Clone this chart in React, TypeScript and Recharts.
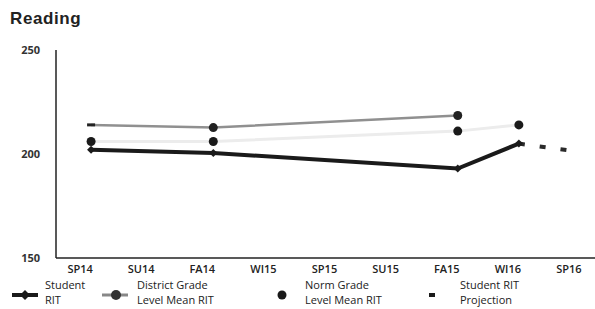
import React from "react";
import { LineChart, Line, XAxis, YAxis } from "recharts";

const periods = ["SP14", "SU14", "FA14", "WI15", "SP15", "SU15", "FA15", "WI16", "SP16"];
const studentRit = [202, null, 200.5, null, null, null, 193, 205, null];
const districtMean = [214, null, 212.7, null, null, null, 218.5, null, null];
const normMean = [206, null, 206, null, null, null, 211, 214, null];
const projection = [null, null, null, null, null, null, null, 205, 201];
const yTicks = [150, 200, 250];

const data = periods.map((p, i) => ({
  idx: i,
  period: p,
  student: studentRit[i],
  district: districtMean[i],
  norm: normMean[i],
  projection: projection[i],
}));

const FONT = "'Open Sans', 'Liberation Sans', sans-serif";

const XTick = (props: any) => {
  const { x, y, payload } = props;
  return (
    <text x={x - 11} y={y + 7} textAnchor="middle" fontFamily={FONT} fontSize={11} fontWeight={600} fill="#222">
      {periods[payload.value]}
    </text>
  );
};

const Diamond = (props: any) => {
  const { cx, cy } = props;
  if (cx == null || cy == null) return null;
  return <path d={`M${cx - 4},${cy} L${cx},${cy - 4} L${cx + 4},${cy} L${cx},${cy + 4} Z`} fill="#1a1a1a" />;
};

const DistrictDot = (props: any) => {
  const { cx, cy, index } = props;
  if (cx == null || cy == null) return null;
  if (index === 0) return <rect x={cx - 4} y={cy - 1.5} width={8} height={3} fill="#222" />;
  return <circle cx={cx} cy={cy} r={4.5} fill="#222" />;
};

const legendItems = [
  { icon: "student", lines: ["Student", "RIT"], iconX: 12, textX: 45 },
  { icon: "district", lines: ["District Grade", "Level Mean RIT"], iconX: 102, textX: 137 },
  { icon: "norm", lines: ["Norm Grade", "Level Mean RIT"], iconX: 275, textX: 305 },
  { icon: "proj", lines: ["Student RIT", "Projection"], iconX: 427, textX: 460 },
];

function LegendIcon({ kind }: { kind: string }) {
  if (kind === "student")
    return (
      <svg width={26} height={12}>
        <line x1={0} y1={6} x2={26} y2={6} stroke="#1a1a1a" strokeWidth={4} />
        <path d="M8,6 L13,1 L18,6 L13,11 Z" fill="#1a1a1a" />
      </svg>
    );
  if (kind === "district")
    return (
      <svg width={26} height={12}>
        <line x1={0} y1={6} x2={26} y2={6} stroke="#888" strokeWidth={3} />
        <circle cx={14} cy={6} r={5} fill="#333" />
      </svg>
    );
  if (kind === "norm")
    return (
      <svg width={14} height={12}>
        <circle cx={7} cy={6} r={4.5} fill="#1a1a1a" />
      </svg>
    );
  return (
    <svg width={10} height={12}>
      <rect x={2} y={4} width={6} height={4} fill="#1a1a1a" />
    </svg>
  );
}

export default function App() {
  return (
    <div style={{ position: "absolute", left: 0, top: 0, width: 595, height: 309, background: "#fff", fontFamily: FONT }}>
      <div
        style={{
          position: "absolute",
          left: 10,
          top: 9,
          fontSize: 17,
          fontWeight: 700,
          letterSpacing: 0.6,
          color: "#222",
          fontFamily: "'Liberation Sans', Arial, sans-serif",
        }}
      >
        Reading
      </div>
      <LineChart width={595} height={288} data={data} margin={{ top: 50, right: 0, bottom: 0, left: 11 }}>
        <XAxis
          dataKey="idx"
          type="number"
          domain={[-0.574, 8.246]}
          ticks={[0, 1, 2, 3, 4, 5, 6, 7, 8]}
          allowDataOverflow
          tickLine={false}
          tick={<XTick />}
          height={30}
          axisLine={{ stroke: "#222", strokeWidth: 1.5 }}
        />
        <YAxis
          domain={[150, 250]}
          ticks={yTicks}
          width={45}
          tickLine={false}
          tickSize={0}
          tickMargin={16}
          axisLine={{ stroke: "#222", strokeWidth: 1.5 }}
          tick={{ fontFamily: FONT, fontSize: 11, fontWeight: 700, fill: "#333" }}
        />
        <Line
          dataKey="norm"
          stroke="#ececec"
          strokeWidth={3}
          connectNulls
          isAnimationActive={false}
          dot={{ r: 4.5, fill: "#1a1a1a", stroke: "none" }}
        />
        <Line
          dataKey="district"
          stroke="#909090"
          strokeWidth={2.5}
          connectNulls
          isAnimationActive={false}
          dot={<DistrictDot />}
        />
        <Line
          dataKey="student"
          stroke="#1a1a1a"
          strokeWidth={4}
          connectNulls
          isAnimationActive={false}
          dot={<Diamond />}
        />
        <Line
          dataKey="projection"
          stroke="#2a2a2a"
          strokeWidth={4}
          strokeDasharray="6 15"
          connectNulls
          isAnimationActive={false}
          dot={false}
        />
      </LineChart>
      {legendItems.map((it) => (
        <React.Fragment key={it.icon}>
          <div style={{ position: "absolute", left: it.iconX, top: 284 }}>
            <LegendIcon kind={it.icon} />
          </div>
          <div style={{ position: "absolute", left: it.textX, top: 277, fontSize: 11, lineHeight: "15px", color: "#222" }}>
            {it.lines.map((l) => (
              <div key={l}>{l}</div>
            ))}
          </div>
        </React.Fragment>
      ))}
    </div>
  );
}
